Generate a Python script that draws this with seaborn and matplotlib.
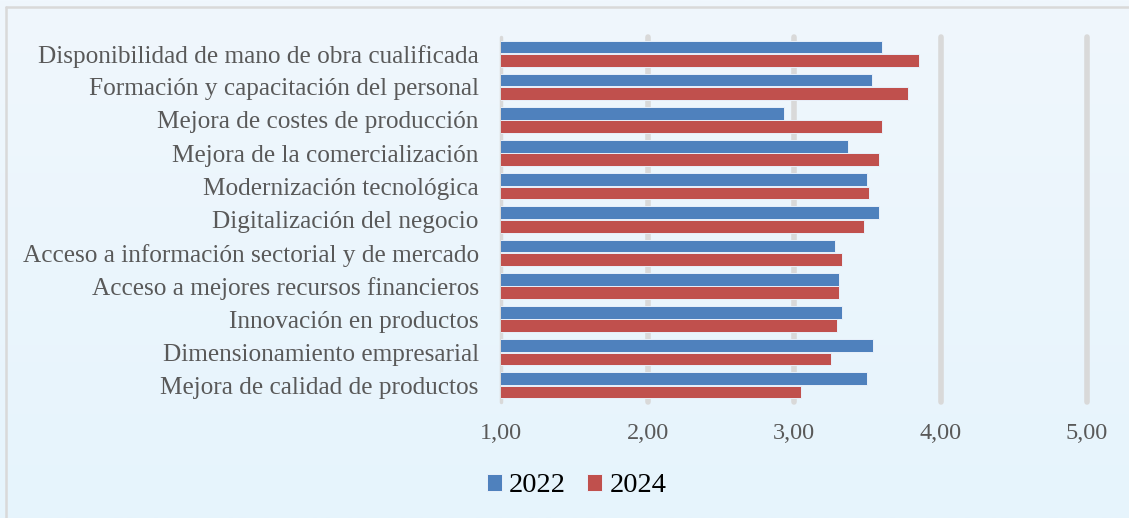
import numpy as np
import pandas as pd
import matplotlib.pyplot as plt
import seaborn as sns
from matplotlib.ticker import FuncFormatter
from matplotlib.lines import Line2D
from matplotlib.colors import LinearSegmentedColormap

# Chart data
categories = [
    "Disponibilidad de mano de obra cualificada",
    "Formación y capacitación del personal",
    "Mejora de costes de producción",
    "Mejora de la comercialización",
    "Modernización tecnológica",
    "Digitalización del negocio",
    "Acceso a información sectorial y de mercado",
    "Acceso a mejores recursos financieros",
    "Innovación en productos",
    "Dimensionamiento empresarial",
    "Mejora de calidad de productos",
]
values_2022 = [3.60, 3.53, 2.93, 3.37, 3.50, 3.58, 3.28, 3.31, 3.33, 3.54, 3.50]
values_2024 = [3.85, 3.78, 3.60, 3.58, 3.51, 3.48, 3.33, 3.31, 3.29, 3.25, 3.05]
years = ["2022", "2024"]
xticks = [1, 2, 3, 4, 5]

df = pd.DataFrame({
    "categoria": categories * 2,
    "valor": values_2022 + values_2024,
    "año": [years[0]] * len(categories) + [years[1]] * len(categories),
})

sns.set_theme(style="white")
plt.rcParams["font.family"] = ["Liberation Serif", "DejaVu Serif"]

fig = plt.figure(figsize=(11.29, 5.18), dpi=100)

# light blue gradient background
bg = fig.add_axes([0, 0, 1, 1], zorder=-10)
cmap = LinearSegmentedColormap.from_list("bg", ["#F0F7FD", "#E6F4FC"])
bg.imshow(np.linspace(0, 1, 256).reshape(-1, 1), aspect="auto", cmap=cmap,
          extent=[0, 1, 0, 1], origin="upper")
bg.axis("off")
# border only on the left and top (chart frame is cropped)
fig.add_artist(Line2D([0.0055, 0.0055], [0, 0.986], transform=fig.transFigure,
                      color="#D9D9D9", linewidth=1.8))
fig.add_artist(Line2D([0.0055, 1], [0.986, 0.986], transform=fig.transFigure,
                      color="#D9D9D9", linewidth=1.8))

ax = fig.add_axes([0.4438, 0.2239, 0.519, 0.7047])
ax.set_facecolor("none")

# grid lines behind bars
for x in xticks:
    ax.axvline(x, color="#D9D9D9", linewidth=4 if x > 1 else 2.5, zorder=0, clip_on=False)

sns.barplot(data=df, y="categoria", x="valor", hue="año", orient="h",
            palette=["#4F81BD", "#C0504D"], saturation=1, width=0.8, gap=0.04,
            edgecolor="#E8F0FA", linewidth=0.7, ax=ax, zorder=2)

ax.set_xlim(1, 5)
ax.set_xticks(xticks)
ax.xaxis.set_major_formatter(FuncFormatter(lambda v, p: f"{v:.2f}".replace(".", ",")))
ax.set_xlabel("")
ax.set_ylabel("")
ax.tick_params(axis="x", labelsize=17.5, colors="#595959", pad=15, length=0)
ax.tick_params(axis="y", labelsize=18.2, colors="#595959", pad=16, length=0)
for s in ax.spines.values():
    s.set_visible(False)

handles, labels = ax.get_legend_handles_labels()
ax.get_legend().remove()
fig.legend(handles, labels, loc="center", bbox_to_anchor=(0.5106, 0.062), ncol=2,
           frameon=False, fontsize=20.5, handlelength=0.53, handleheight=0.53,
           handletextpad=0.25, columnspacing=0.75, labelcolor="black")

fig.savefig("out.png", dpi=100)
